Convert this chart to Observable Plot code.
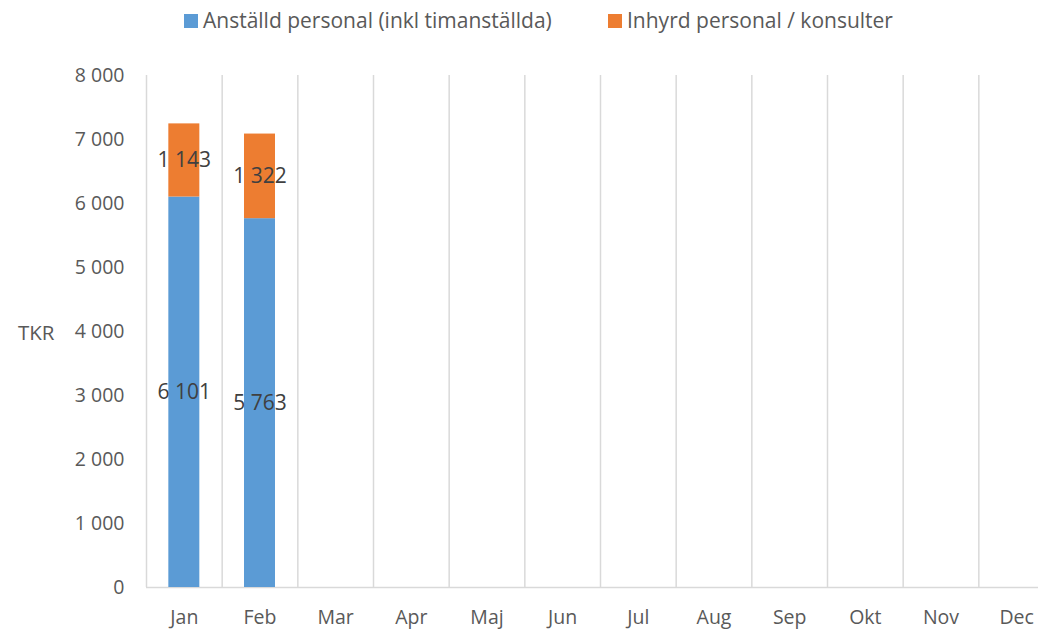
<!DOCTYPE html>
<html><head><meta charset="utf-8">
<script src="https://cdn.jsdelivr.net/npm/d3@7"></script>
<script src="https://cdn.jsdelivr.net/npm/@observablehq/plot@0.6"></script>
<style>
html,body{margin:0;padding:0;background:#fff;overflow:hidden;width:1038px;height:632px;font-family:"Open Sans","Noto Sans",sans-serif;}
#legend{position:absolute;left:0;top:0;width:1038px;height:45px;}
.li{position:absolute;top:8px;font-size:21px;color:#595959;white-space:nowrap;line-height:24px;}
.sw{position:absolute;left:0;top:6px;width:14px;height:14px;}
.lt{position:absolute;white-space:nowrap;}
#tkr{position:absolute;left:18px;top:318px;font-size:20.5px;color:#595959;}
#chart{position:absolute;left:0;top:45px;}
</style></head>
<body>
<div id="legend"></div>
<div id="tkr">TKR</div>
<div id="chart"></div>
<script>
const months = ["Jan","Feb","Mar","Apr","Maj","Jun","Jul","Aug","Sep","Okt","Nov","Dec"];
const seriesNames = ["Anställd personal (inkl timanställda)", "Inhyrd personal / konsulter"];
const colors = ["#5B9BD5", "#ED7D31"];
const anstalld = [6101, 5763];
const inhyrd = [1143, 1322];
const yTicks = [0,1000,2000,3000,4000,5000,6000,7000,8000];

const rows = [];
anstalld.forEach((v,i)=>rows.push({month: months[i], series: seriesNames[0], value: v}));
inhyrd.forEach((v,i)=>rows.push({month: months[i], series: seriesNames[1], value: v}));

const fmt = v => d3.format(",")(v).replace(/,/g, "\u00a0");

// legend
const legend = document.getElementById("legend");
const lpos = [184, 608];
seriesNames.forEach((s,i)=>{
  const d = document.createElement("div");
  d.className = "li"; d.style.left = lpos[i] + "px";
  d.innerHTML = `<span class="sw" style="background:${colors[i]}"></span>`;
  const t = document.createElement("span");
  t.className = "lt"; t.style.left = "19px"; t.textContent = s;
  d.appendChild(t);
  legend.appendChild(d);
});

const W = 1056, ML = 146, MR = 2;
const step = (W - ML - MR) / months.length;

const plot = Plot.plot({
  width: W,
  height: 587,
  marginLeft: ML,
  marginRight: MR,
  marginTop: 30,
  marginBottom: 45,
  style: {fontFamily: "'Open Sans', 'Noto Sans', sans-serif", fontSize: "19.5px", color: "#595959", overflow: "visible", maxWidth: "none"},
  x: {domain: months, padding: 0, round: false, label: null, tickSize: 0, tickPadding: 23},
  y: {domain: [0, 8000], ticks: yTicks, tickFormat: fmt, label: null, tickSize: 0, tickPadding: 22},
  color: {domain: seriesNames, range: colors},
  marks: [
    Plot.ruleX(months, {x: d => d, dx: -step/2, stroke: "#d9d9d9", strokeWidth: 1.5}),
    Plot.ruleY([0], {stroke: "#d9d9d9", strokeWidth: 1.5}),
    Plot.barY(rows, {x: "month", y: "value", fill: "series", insetLeft: (step-31)/2, insetRight: (step-31)/2}),
    Plot.text(rows, Plot.stackY({x: "month", y: "value", z: "series", text: d => fmt(d.value), fill: "#404040", fontSize: 21}))
  ]
});
document.getElementById("chart").appendChild(plot);
</script>
</body></html>
